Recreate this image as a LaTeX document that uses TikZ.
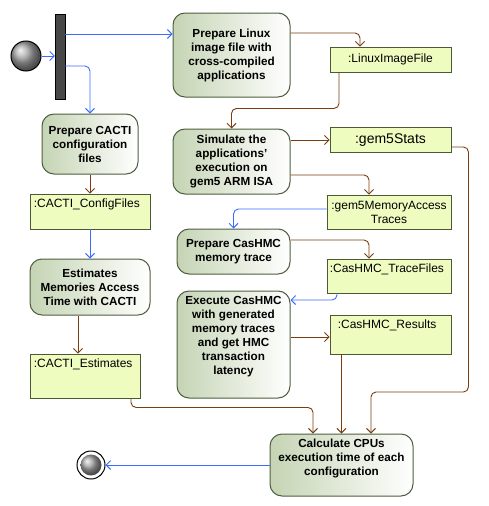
\documentclass[tikz,border=0pt]{standalone}
\usepackage{fontspec}
\setmainfont{Liberation Sans}
\usetikzlibrary{arrows.meta,shadings}
\definecolor{flowblue}{RGB}{58,108,255}
\definecolor{flowbrown}{RGB}{122,61,15}
\definecolor{actleft}{RGB}{197,212,180}
\definecolor{actborder}{RGB}{78,94,62}
\definecolor{objfill}{RGB}{238,252,192}
\definecolor{objborder}{RGB}{75,90,50}
\tikzset{
  action/.style={draw=actborder, line width=1pt, rounded corners=12pt,
    left color=actleft, right color=white, align=center, inner sep=2pt,
    font=\bfseries\fontsize{11.7}{14}\selectfont},
  objbox/.style={draw=objborder, line width=0.9pt, fill=objfill, align=center,
    inner sep=2pt, font=\fontsize{12}{14}\selectfont},
  toplabel/.style={anchor=north west, inner sep=0pt, font=\fontsize{12}{14}\selectfont},
  flowb/.style={draw=flowblue, line width=0.9pt, rounded corners=5pt,
    -{Straight Barb[length=4.5pt,width=9pt]}},
  flowr/.style={draw=flowbrown, line width=0.9pt, rounded corners=5pt,
    -{Straight Barb[length=4.5pt,width=9pt]}},
}
\begin{document}
\begin{tikzpicture}[x=1pt,y=-1pt]
\useasboundingbox (0,0) rectangle (489,506);
% initial, fork, final
\node[circle, draw=black, line width=1pt, ball color=gray!70, minimum size=30pt, inner sep=0pt] (init) at (26,56) {};
\node[draw=black, fill=black!72, minimum width=10pt, minimum height=85pt, inner sep=0pt] (bar) at (60,56.5) {};
\node[circle, draw=black, line width=1pt, fill=white, minimum size=28pt, inner sep=0pt] (final) at (91,465) {};
\node[circle, ball color=gray!70, minimum size=21pt, inner sep=0pt] (finalin) at (91,465) {};
% actions
\node[action, minimum width=117pt, minimum height=84pt] (linux) at (231.5,55) {Prepare Linux\\image file with\\cross-compiled\\applications};
\node[action, minimum width=117pt, minimum height=65pt] (simulate) at (231.5,161.5) {Simulate the\\applications'\\execution on\\gem5 ARM ISA};
\node[action, minimum width=113pt, minimum height=45pt] (prepcas) at (233.5,251.5) {Prepare CasHMC\\memory trace};
\node[action, minimum width=113pt, minimum height=107pt] (execute) at (233.5,344.5) {Execute CasHMC\\with generated\\memory traces\\and get HMC\\transaction\\latency\\[5pt]};
\node[action, minimum width=96pt, minimum height=60pt] (cacti) at (90,144) {Prepare CACTI\\configuration\\files};
\node[action, minimum width=120pt, minimum height=56pt] (estimates) at (90,287) {Estimates\\Memories Access\\Time with CACTI};
\node[action, minimum width=143pt, minimum height=62pt] (calc) at (341.5,465) {Calculate CPUs\\execution time of each\\configuration\\[2pt]};
% objects
\node[objbox, minimum width=121pt, minimum height=25pt] (linuxfile) at (390.5,59.5) {:LinuxImageFile};
\node[objbox, minimum width=121pt, minimum height=25pt, font=\fontsize{14}{16}\selectfont] (gem5stats) at (390.5,140) {:gem5Stats};
\node[objbox, minimum width=124pt, minimum height=34pt] (gem5mat) at (389,212) {:gem5MemoryAccess\\Traces};
\node[objbox, minimum width=124pt, minimum height=34pt] (tracefiles) at (389,276) {};
\node[toplabel] at ([xshift=3pt,yshift=-5pt]tracefiles.north west) {:CasHMC\_TraceFiles};
\node[objbox, minimum width=121pt, minimum height=39pt] (results) at (390.5,334.5) {};
\node[toplabel] at ([xshift=8pt,yshift=-5pt]results.north west) {:CasHMC\_Results};
\node[objbox, minimum width=120pt, minimum height=35pt] (configfiles) at (90,211.5) {};
\node[toplabel] at ([xshift=4pt,yshift=-5pt]configfiles.north west) {:CACTI\_ConfigFiles};
\node[objbox, minimum width=110pt, minimum height=44pt] (cactiest) at (85,376) {};
\node[toplabel] at ([xshift=4pt,yshift=-5pt]cactiest.north west) {:CACTI\_Estimates};
% connectors
\draw[flowb] (init.east) -- (init.east -| bar.west);
\draw[flowb] ([yshift=22.5pt]bar.east) -- ([yshift=22.5pt]bar.east -| linux.west);
\draw[flowb] ([yshift=-9.5pt]bar.east) -| (cacti.north);
\draw[flowr] ([yshift=22pt]linux.east) -| ([xshift=-30.5pt]linuxfile.north);
\draw[flowr] ([xshift=-51.5pt]linuxfile.south) -- ++(0,36) -| (simulate.north);
\draw[flowr] ([yshift=21.5pt]simulate.east) -- (gem5stats.west);
\draw[flowr] ([yshift=-13.5pt]simulate.east) -| ([xshift=-20pt]gem5mat.north);
\draw[flowb] ([yshift=3pt]gem5mat.west) -| (prepcas.north);
\draw[flowr] ([yshift=11.5pt]prepcas.east) -| ([xshift=-20pt]tracefiles.north);
\draw[flowb] ([xshift=-52pt]tracefiles.south) |- ([yshift=44.5pt]execute.east);
\draw[flowr] ([yshift=7.5pt]execute.east) -- ([yshift=-2.5pt]results.west);
\draw[flowr] (results.south -| calc.north) -- (calc.north);
\draw[flowr] ([yshift=-7pt]gem5stats.east) -- ++(17,0) -- ++(0,245) -| ([xshift=29.5pt]calc.north);
\draw[flowr] ([xshift=46pt]cactiest.south) -- ++(0,9) -| ([xshift=-28.5pt]calc.north);
\draw[flowb] (calc.west) -- (final.east);
\draw[flowr] (cacti.south) -- (configfiles.north);
\draw[flowb] (configfiles.south) -- (estimates.north);
\coordinate (e1) at ([xshift=-12pt]estimates.south);
\draw[flowr] (e1) -- (e1 |- cactiest.north);
\end{tikzpicture}
\end{document}
